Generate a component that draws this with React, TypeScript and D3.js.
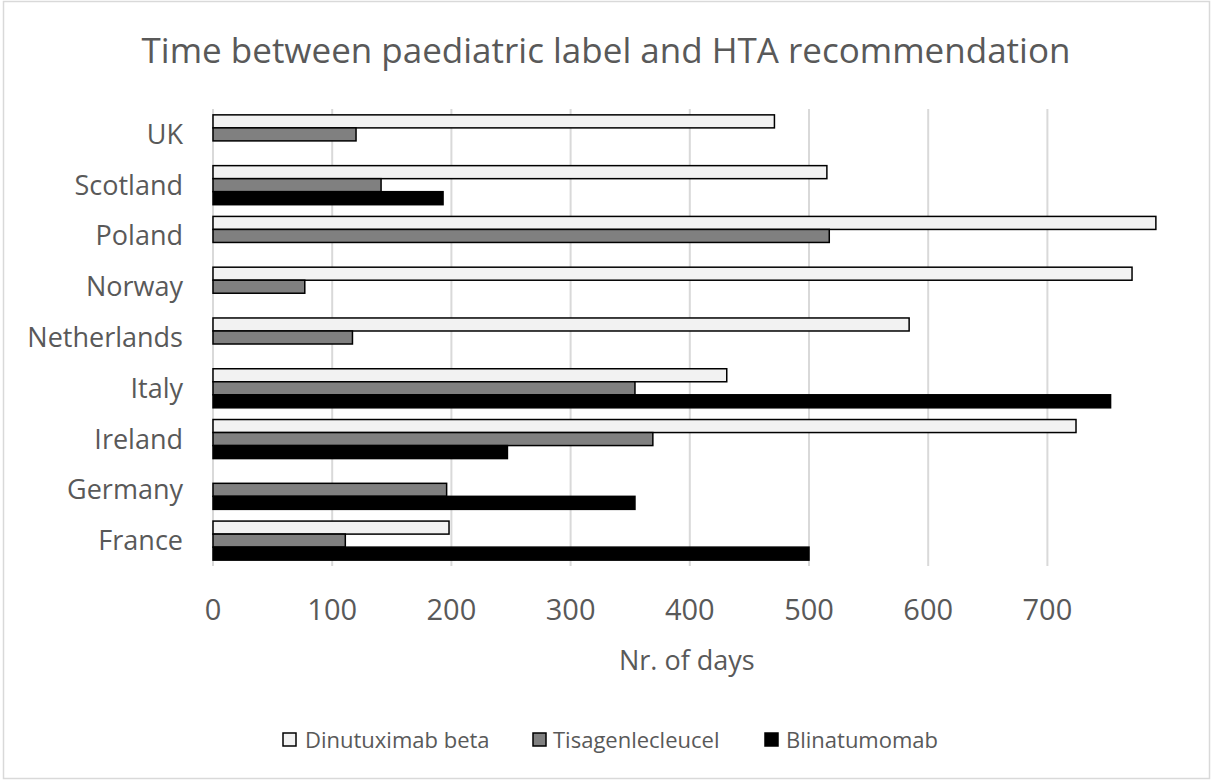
import React from 'react';
import * as d3 from 'd3';

const categories = ['UK', 'Scotland', 'Poland', 'Norway', 'Netherlands', 'Italy', 'Ireland', 'Germany', 'France'];
const seriesNames = ['Dinutuximab beta', 'Tisagenlecleucel', 'Blinatumomab'];
const dinutuximab = [471, 515, 791, 771, 584, 431, 724, 0, 198];
const tisagenlecleucel = [120, 141, 517, 77, 117, 354, 369, 196, 111];
const blinatumomab = [0, 193, 0, 0, 0, 753, 247, 354, 500];
const xTicks = [0, 100, 200, 300, 400, 500, 600, 700];

const seriesValues = [dinutuximab, tisagenlecleucel, blinatumomab];
const fills = ['#f2f2f2', '#808080', '#000000'];

const W = 1211;
const H = 780;
const margin = { top: 109, right: 50, bottom: 214, left: 213 };
const font = '"Open Sans", sans-serif';
const textColor = '#595959';

export default function App() {
  const x = d3.scaleLinear().domain([0, 795]).range([margin.left, margin.left + 795 * 1.192]);
  const y0 = d3.scaleBand().domain(categories).range([margin.top, H - margin.bottom]).padding(0);
  const y1 = d3.scaleBand().domain(seriesNames).range([0, y0.bandwidth()]).paddingInner(0).paddingOuter(0.45);

  const legendItems = [
    { sx: 283, tx: 305 },
    { sx: 533, tx: 553 },
    { sx: 765, tx: 786 },
  ];

  return (
    <div style={{ position: 'fixed', left: 0, top: 0 }}>
      <svg width={W} height={H} style={{ display: 'block', background: '#fff' }}>
        <rect x={3.5} y={1.5} width={W - 5} height={H - 3} fill="#fff" stroke="#d9d9d9" strokeWidth={1.5} />

        <text x={606} y={63} textAnchor="middle" fontFamily={font} fontSize={35} fill={textColor}>
          Time between paediatric label and HTA recommendation
        </text>

        {xTicks.map(t => (
          <line key={t} x1={x(t)} x2={x(t)} y1={margin.top} y2={H - margin.bottom} stroke="#d9d9d9" strokeWidth={2} />
        ))}

        {categories.map((c, i) => (
          <g key={c}>
            {seriesValues.map((vals, s) =>
              vals[i] > 0 ? (
                <rect
                  key={s}
                  x={x(0)}
                  y={(y0(c) as number) + (y1(seriesNames[s]) as number)}
                  width={x(vals[i]) - x(0)}
                  height={y1.bandwidth()}
                  fill={fills[s]}
                  stroke="#000"
                  strokeWidth={1.5}
                />
              ) : null
            )}
            <text
              x={183}
              y={(y0(c) as number) + y0.bandwidth() / 2}
              dy="0.35em"
              textAnchor="end"
              fontFamily={font}
              fontSize={27}
              fill={textColor}
            >
              {c}
            </text>
          </g>
        ))}

        {xTicks.map(t => (
          <text key={t} x={x(t)} y={620} textAnchor="middle" fontFamily={font} fontSize={29} fill={textColor}>
            {t}
          </text>
        ))}

        <text x={(x(0) + x(795)) / 2} y={670} textAnchor="middle" fontFamily={font} fontSize={27} fill={textColor}>
          Nr. of days
        </text>

        {seriesNames.map((s, i) => (
          <g key={s}>
            <rect x={legendItems[i].sx} y={733} width={13} height={13} fill={fills[i]} stroke="#000" strokeWidth={1.5} />
            <text x={legendItems[i].tx} y={740} dy="0.35em" fontFamily={font} fontSize={22} fill={textColor}>
              {s}
            </text>
          </g>
        ))}
      </svg>
    </div>
  );
}
